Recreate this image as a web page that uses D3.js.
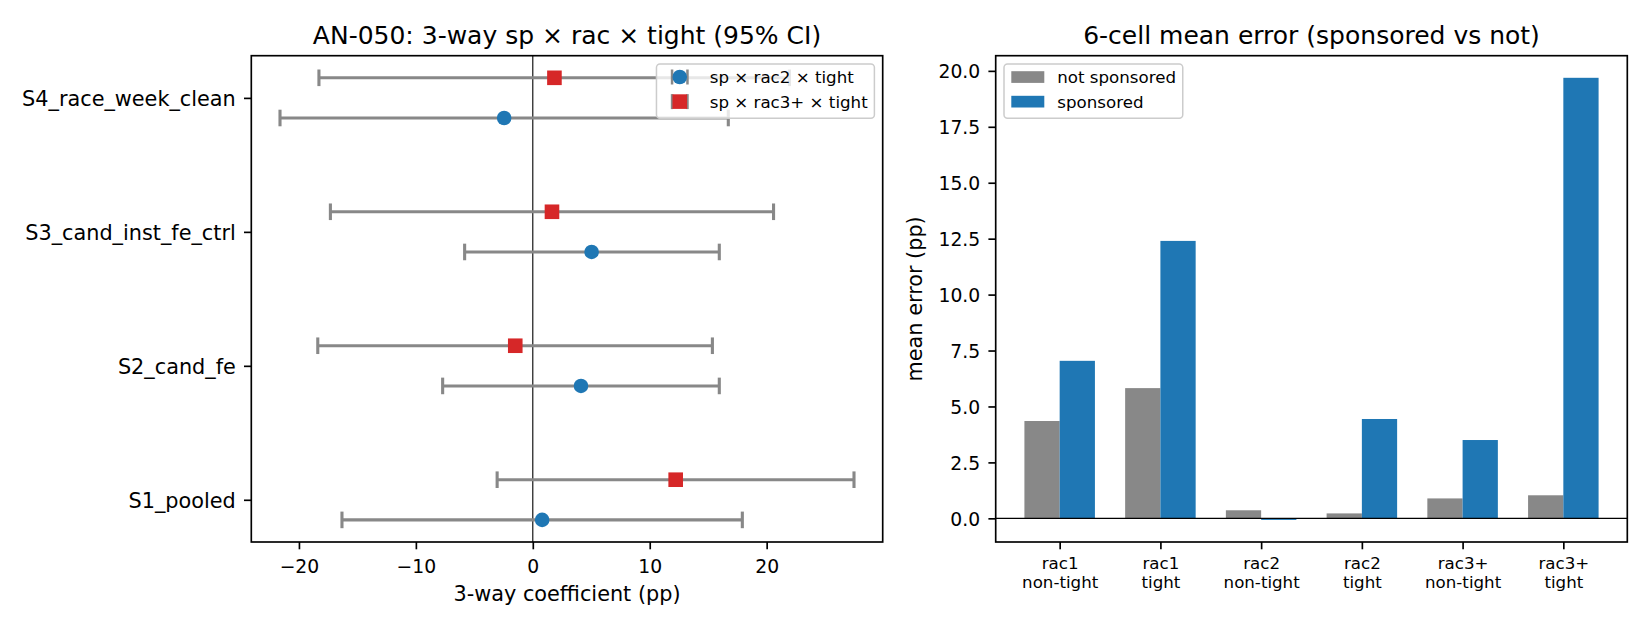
<!DOCTYPE html>
<html>
<head>
  <meta charset="utf-8">
  <title>AN-050 3-way interaction</title>
  <script src="https://cdn.jsdelivr.net/npm/d3@7"></script>
  <style>
    body { margin: 0; background: #fff; }
    svg text { font-family: "DejaVu Sans", sans-serif; fill: #000; }
  </style>
</head>
<body>
  <div id="chart"></div>

  <script>
    // ---- data ----
    // left panel: 3-way coefficient per specification (pp), with 95% CI
    var specs = ["S1_pooled", "S2_cand_fe", "S3_cand_inst_fe_ctrl", "S4_race_week_clean"];
    var rac2Coef = [0.80, 4.12, 5.03, -2.45];
    var rac2Lo = [-16.32, -7.71, -5.83, -21.62];
    var rac2Hi = [17.92, 15.95, 15.95, 16.72];
    var rac3Coef = [12.22, -1.50, 1.64, 1.85];
    var rac3Lo = [-3.05, -18.39, -17.31, -18.29];
    var rac3Hi = [27.47, 15.36, 20.59, 21.95];
    var seriesNames = ["sp \u00d7 rac2 \u00d7 tight", "sp \u00d7 rac3+ \u00d7 tight"];

    // right panel: mean error by cell (pp)
    var cells = ["rac1\nnon-tight", "rac1\ntight", "rac2\nnon-tight", "rac2\ntight", "rac3+\nnon-tight", "rac3+\ntight"];
    var notSponsored = [4.35, 5.82, 0.36, 0.22, 0.89, 1.03];
    var sponsored = [7.04, 12.40, -0.07, 4.44, 3.50, 19.69];
    var barNames = ["not sponsored", "sponsored"];
    var yTicksRight = [0, 2.5, 5, 7.5, 10, 12.5, 15, 17.5, 20];
    var xTicksLeft = [-20, -10, 0, 10, 20];

    var blue = "#1f77b4", red = "#d62728", grey = "#888888";
    var tickLen = 7.3, spineW = 1.67;

    var svg = d3.select("#chart").append("svg")
      .attr("width", 1650)
      .attr("height", 630);

    svg.append("rect").attr("width", 1650).attr("height", 630).attr("fill", "#fff");

    // matplotlib style auto limits (5% margin)
    function padded(lo, hi) {
      var m = (hi - lo) * 0.05;
      return [lo - m, hi + m];
    }

    // ---------------- left panel ----------------
    var L = { left: 251.3, right: 882.7, top: 55.7, bottom: 542 };
    var gL = svg.append("g");

    var xMin = d3.min(rac2Lo.concat(rac3Lo)), xMax = d3.max(rac2Hi.concat(rac3Hi));
    var xL = d3.scaleLinear().domain(padded(xMin, xMax)).range([L.left, L.right]);
    var yL = d3.scaleLinear().domain(padded(-0.15, specs.length - 1 + 0.15)).range([L.bottom, L.top]);

    // zero line
    gL.append("line")
      .attr("x1", xL(0)).attr("x2", xL(0))
      .attr("y1", L.top).attr("y2", L.bottom)
      .attr("stroke", "#000").attr("stroke-width", 1.1);

    var series = [
      { name: seriesNames[0], coef: rac2Coef, lo: rac2Lo, hi: rac2Hi, off: -0.15, color: blue, shape: "circle" },
      { name: seriesNames[1], coef: rac3Coef, lo: rac3Lo, hi: rac3Hi, off: 0.15, color: red, shape: "square" }
    ];

    var capH = 8.3, msize = 14.6;
    series.forEach(function (s) {
      var rows = specs.map(function (d, i) {
        return { y: i + s.off, c: s.coef[i], lo: s.lo[i], hi: s.hi[i] };
      });
      var g = gL.append("g");
      g.selectAll(".bar").data(rows).enter().append("line")
        .attr("x1", function (d) { return xL(d.lo); })
        .attr("x2", function (d) { return xL(d.hi); })
        .attr("y1", function (d) { return yL(d.y); })
        .attr("y2", function (d) { return yL(d.y); })
        .attr("stroke", grey).attr("stroke-width", 3.1);
      ["lo", "hi"].forEach(function (k) {
        g.selectAll(".cap" + k).data(rows).enter().append("line")
          .attr("x1", function (d) { return xL(d[k]); })
          .attr("x2", function (d) { return xL(d[k]); })
          .attr("y1", function (d) { return yL(d.y) - capH; })
          .attr("y2", function (d) { return yL(d.y) + capH; })
          .attr("stroke", grey).attr("stroke-width", 3.1);
      });
      if (s.shape === "circle") {
        g.selectAll(".pt").data(rows).enter().append("circle")
          .attr("cx", function (d) { return xL(d.c); })
          .attr("cy", function (d) { return yL(d.y); })
          .attr("r", msize / 2)
          .attr("fill", s.color);
      } else {
        g.selectAll(".pt").data(rows).enter().append("rect")
          .attr("x", function (d) { return xL(d.c) - msize / 2; })
          .attr("y", function (d) { return yL(d.y) - msize / 2; })
          .attr("width", msize).attr("height", msize)
          .attr("fill", s.color);
      }
    });

    // frame
    gL.append("rect")
      .attr("x", L.left).attr("y", L.top)
      .attr("width", L.right - L.left).attr("height", L.bottom - L.top)
      .attr("fill", "none").attr("stroke", "#000").attr("stroke-width", spineW);

    // x axis
    var xAxisL = gL.append("g")
      .attr("transform", "translate(0," + L.bottom + ")")
      .call(d3.axisBottom(xL).tickValues(xTicksLeft).tickSize(tickLen).tickSizeOuter(0)
        .tickFormat(function (d) { return d < 0 ? "\u2212" + Math.abs(d) : d; }));
    xAxisL.select(".domain").remove();
    xAxisL.selectAll(".tick line").attr("stroke", "#000").attr("stroke-width", spineW);
    xAxisL.selectAll(".tick text")
      .attr("y", 30.7).attr("dy", null)
      .style("font-size", "18.75px");

    // y axis (spec names)
    var yAxisL = gL.append("g")
      .attr("transform", "translate(" + L.left + ",0)")
      .call(d3.axisLeft(yL).tickValues(d3.range(specs.length)).tickSize(tickLen).tickSizeOuter(0)
        .tickFormat(function (d) { return specs[d]; }));
    yAxisL.select(".domain").remove();
    yAxisL.selectAll(".tick line").attr("stroke", "#000").attr("stroke-width", spineW);
    yAxisL.selectAll(".tick text")
      .attr("x", -15.5).attr("dy", "0.36em")
      .style("font-size", "20.8px");

    gL.append("text")
      .attr("x", (L.left + L.right) / 2).attr("y", 601)
      .attr("text-anchor", "middle")
      .style("font-size", "20.8px")
      .text("3-way coefficient (pp)");

    gL.append("text")
      .attr("x", (L.left + L.right) / 2).attr("y", 44)
      .attr("text-anchor", "middle")
      .style("font-size", "25px")
      .text("AN-050: 3-way sp \u00d7 rac \u00d7 tight (95% CI)");

    // legend (upper right)
    var legFs = 16.67;
    var legL = gL.append("g");
    var legBox = legL.append("rect");
    var legTexts = legL.selectAll("text").data(series).enter().append("text")
      .style("font-size", legFs + "px")
      .text(function (d) { return d.name; });
    var tw = d3.max(legTexts.nodes(), function (n) { return n.getComputedTextLength(); });
    var lw = 6.7 + 33.3 + 13.3 + tw + 6.7;
    var lx = L.right - 8.3 - lw, ly = L.top + 8.3;
    legBox
      .attr("x", lx).attr("y", ly).attr("width", lw).attr("height", 54.3)
      .attr("rx", 3.5)
      .attr("fill", "#fff").attr("fill-opacity", 0.8)
      .attr("stroke", "#cccccc").attr("stroke-width", 1.5);
    legTexts
      .attr("x", lx + 53.3)
      .attr("y", function (d, i) { return ly + 13 + i * 24.6 + 6.3; });
    series.forEach(function (s, i) {
      var cx = lx + 23.3, cy = ly + 13 + i * 24.6;
      [-7.7, 7.7].forEach(function (dx) {
        legL.append("line")
          .attr("x1", cx + dx).attr("x2", cx + dx)
          .attr("y1", cy - 7.5).attr("y2", cy + 7.5)
          .attr("stroke", grey).attr("stroke-width", 2.5);
      });
      if (s.shape === "circle") {
        legL.append("circle").attr("cx", cx).attr("cy", cy).attr("r", msize / 2).attr("fill", s.color);
      } else {
        legL.append("rect").attr("x", cx - msize / 2).attr("y", cy - msize / 2)
          .attr("width", msize).attr("height", msize).attr("fill", s.color);
      }
    });

    // ---------------- right panel ----------------
    var R = { left: 995.7, right: 1627.3, top: 55.7, bottom: 542 };
    var gR = svg.append("g");
    var bw = 0.35;

    var xR = d3.scaleLinear().domain(padded(-bw, cells.length - 1 + bw)).range([R.left, R.right]);
    var yMin = Math.min(0, d3.min(notSponsored.concat(sponsored)));
    var yMax = d3.max(notSponsored.concat(sponsored));
    var yR = d3.scaleLinear().domain(padded(yMin, yMax)).range([R.bottom, R.top]);

    var groups = [
      { name: barNames[0], vals: notSponsored, off: -bw / 2, color: grey },
      { name: barNames[1], vals: sponsored, off: bw / 2, color: blue }
    ];

    groups.forEach(function (grp) {
      gR.append("g").selectAll("rect").data(grp.vals).enter().append("rect")
        .attr("x", function (d, i) { return xR(i + grp.off - bw / 2); })
        .attr("width", xR(bw) - xR(0))
        .attr("y", function (d) { return yR(Math.max(0, d)); })
        .attr("height", function (d) { return Math.abs(yR(d) - yR(0)); })
        .attr("fill", grp.color);
    });

    // baseline at zero
    gR.append("line")
      .attr("x1", R.left).attr("x2", R.right)
      .attr("y1", yR(0)).attr("y2", yR(0))
      .attr("stroke", "#000").attr("stroke-width", 1.1);

    gR.append("rect")
      .attr("x", R.left).attr("y", R.top)
      .attr("width", R.right - R.left).attr("height", R.bottom - R.top)
      .attr("fill", "none").attr("stroke", "#000").attr("stroke-width", spineW);

    var yAxisR = gR.append("g")
      .attr("transform", "translate(" + R.left + ",0)")
      .call(d3.axisLeft(yR).tickValues(yTicksRight).tickSize(tickLen).tickSizeOuter(0)
        .tickFormat(d3.format(".1f")));
    yAxisR.select(".domain").remove();
    yAxisR.selectAll(".tick line").attr("stroke", "#000").attr("stroke-width", spineW);
    yAxisR.selectAll(".tick text")
      .attr("x", -15.5).attr("dy", "0.36em")
      .style("font-size", "18.75px");

    var xAxisR = gR.append("g")
      .attr("transform", "translate(0," + R.bottom + ")")
      .call(d3.axisBottom(xR).tickValues(d3.range(cells.length)).tickSize(tickLen).tickSizeOuter(0)
        .tickFormat(""));
    xAxisR.select(".domain").remove();
    xAxisR.selectAll(".tick line").attr("stroke", "#000").attr("stroke-width", spineW);
    xAxisR.selectAll(".tick text").remove();
    xAxisR.selectAll(".tick").append("text")
      .attr("text-anchor", "middle")
      .style("font-size", "16.67px")
      .each(function (d) {
        var t = d3.select(this);
        cells[d].split("\n").forEach(function (line, j) {
          t.append("tspan").attr("x", 0).attr("y", 27.3 + j * 18.7).text(line);
        });
      });

    gR.append("text")
      .attr("transform", "translate(922," + (R.top + R.bottom) / 2 + ") rotate(-90)")
      .attr("text-anchor", "middle")
      .style("font-size", "20.8px")
      .text("mean error (pp)");

    gR.append("text")
      .attr("x", (R.left + R.right) / 2).attr("y", 44)
      .attr("text-anchor", "middle")
      .style("font-size", "25px")
      .text("6-cell mean error (sponsored vs not)");

    // legend (upper left)
    var legR = gR.append("g");
    var legRBox = legR.append("rect");
    var legRTexts = legR.selectAll("text").data(groups).enter().append("text")
      .style("font-size", legFs + "px")
      .text(function (d) { return d.name; });
    var tw2 = d3.max(legRTexts.nodes(), function (n) { return n.getComputedTextLength(); });
    var rx0 = R.left + 8.3, ry0 = R.top + 8.3;
    legRBox
      .attr("x", rx0).attr("y", ry0).attr("width", 6.7 + 33.3 + 13.3 + tw2 + 6.7).attr("height", 54.3)
      .attr("rx", 3.5)
      .attr("fill", "#fff").attr("fill-opacity", 0.8)
      .attr("stroke", "#cccccc").attr("stroke-width", 1.5);
    legRTexts
      .attr("x", rx0 + 53.3)
      .attr("y", function (d, i) { return ry0 + 13 + i * 24.6 + 6.3; });
    legR.selectAll(".patch").data(groups).enter().append("rect")
      .attr("x", rx0 + 7.3).attr("width", 33)
      .attr("y", function (d, i) { return ry0 + 13 + i * 24.6 - 5.8; })
      .attr("height", 11.7)
      .attr("fill", function (d) { return d.color; });
  </script>
</body>
</html>
